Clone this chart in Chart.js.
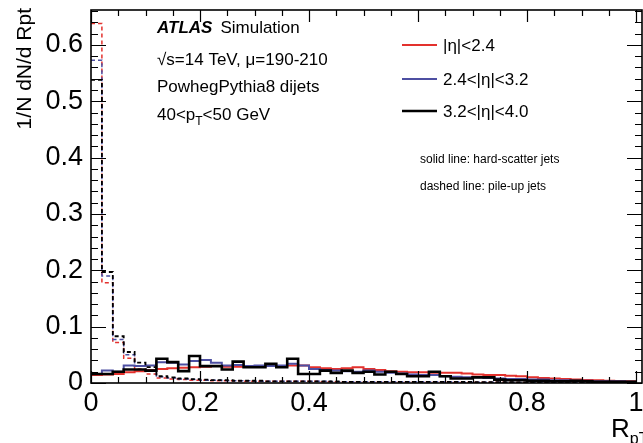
<!DOCTYPE html>
<html>
<head>
<meta charset="utf-8">
<title>Rpt distribution</title>
<script src="https://cdn.jsdelivr.net/npm/chart.js@4.4.1/dist/chart.umd.min.js"></script>
<style>
  html, body { margin: 0; padding: 0; background: #fff; }
  #wrap { width: 643px; height: 443px; }
</style>
</head>
<body>
<div id="wrap"><canvas id="rptChart" width="643" height="443"></canvas></div>
<script>
  const BIN_WIDTH = 0.02;
  const X_MAX = 1.011;
  const Y_MAX = 0.662;
  const xTickValues = [0, 0.2, 0.4, 0.6, 0.8, 1];
  const yTickValues = [0, 0.1, 0.2, 0.3, 0.4, 0.5, 0.6];

  const etaLabels = ["|η|<2.4", "2.4<|η|<3.2", "3.2<|η|<4.0"];
  const etaColors = ["#e3312d", "#4d4fa2", "#000000"];

  // hard-scatter jets, one value per 0.02 bin of Rpt
  const hsCentral = [
    0.014, 0.015, 0.016, 0.019, 0.021, 0.023, 0.025, 0.026, 0.027, 0.028,
    0.029, 0.030, 0.029, 0.029, 0.029, 0.029, 0.030, 0.030, 0.031, 0.031,
    0.028, 0.026, 0.025, 0.026, 0.028, 0.025, 0.023, 0.021, 0.020, 0.019,
    0.019, 0.018, 0.018, 0.018, 0.017, 0.015, 0.014, 0.014, 0.013, 0.012,
    0.010, 0.009, 0.008, 0.007, 0.006, 0.0055, 0.005, 0.004, 0.0035, 0.003,
  ];
  const hsMid = [
    0.016, 0.022, 0.020, 0.031, 0.030, 0.031, 0.037, 0.036, 0.033, 0.039,
    0.041, 0.036, 0.031, 0.032, 0.030, 0.031, 0.030, 0.031, 0.034, 0.031,
    0.025, 0.023, 0.022, 0.021, 0.020, 0.022, 0.020, 0.018, 0.017, 0.015,
    0.014, 0.014, 0.012, 0.011, 0.010, 0.010, 0.009, 0.008, 0.007, 0.007,
    0.006, 0.006, 0.005, 0.005, 0.004, 0.004, 0.003, 0.003, 0.003, 0.002,
  ];
  const hsForward = [
    0.016, 0.016, 0.020, 0.024, 0.024, 0.022, 0.043, 0.037, 0.021, 0.048,
    0.030, 0.030, 0.024, 0.038, 0.028, 0.028, 0.034, 0.028, 0.043, 0.016,
    0.016, 0.022, 0.018, 0.022, 0.018, 0.020, 0.015, 0.020, 0.016, 0.012,
    0.012, 0.020, 0.012, 0.008, 0.008, 0.010, 0.010, 0.006, 0.005, 0.005,
    0.004, 0.004, 0.003, 0.003, 0.004, 0.003, 0.002, 0.002, 0.002, 0.002,
  ];

  // pile-up jets
  const puCentral = [
    0.638, 0.178, 0.072, 0.044, 0.025, 0.016, 0.009, 0.007, 0.006, 0.005,
    0.005, 0.004, 0.004, 0.004, 0.003, 0.003, 0.003, 0.003, 0.003, 0.003,
    0.003, 0.002, 0.002, 0.002, 0.002, 0.002, 0.002, 0.002, 0.002, 0.002,
    0.002, 0.002, 0.002, 0.0015, 0.0015, 0.0015, 0.0015, 0.0015, 0.001, 0.001,
    0.001, 0.001, 0.001, 0.001, 0.001, 0.001, 0.001, 0.001, 0.001, 0.001,
  ];
  const puMid = [
    0.573, 0.190, 0.077, 0.050, 0.030, 0.022, 0.011, 0.009, 0.007, 0.006,
    0.005, 0.005, 0.004, 0.004, 0.004, 0.003, 0.003, 0.003, 0.003, 0.003,
    0.003, 0.003, 0.002, 0.002, 0.002, 0.002, 0.002, 0.002, 0.002, 0.002,
    0.002, 0.002, 0.002, 0.002, 0.0015, 0.0015, 0.0015, 0.0015, 0.001, 0.001,
    0.001, 0.001, 0.001, 0.001, 0.001, 0.001, 0.001, 0.001, 0.001, 0.001,
  ];
  const puForward = [
    0.538, 0.197, 0.083, 0.055, 0.036, 0.028, 0.012, 0.010, 0.008, 0.007,
    0.006, 0.005, 0.005, 0.004, 0.004, 0.004, 0.003, 0.003, 0.003, 0.003,
    0.003, 0.003, 0.003, 0.002, 0.002, 0.002, 0.002, 0.002, 0.002, 0.002,
    0.002, 0.002, 0.002, 0.002, 0.002, 0.0015, 0.0015, 0.0015, 0.0015, 0.001,
    0.001, 0.001, 0.001, 0.001, 0.001, 0.001, 0.001, 0.001, 0.001, 0.001,
  ];

  const FONT = "'Liberation Sans', Arial, Helvetica, sans-serif";

  // left bin edges with the bin content, plus the closing edge of the last bin
  function histPoints(values) {
    const pts = values.map((v, i) => ({ x: i * BIN_WIDTH, y: v }));
    pts.push({ x: values.length * BIN_WIDTH, y: values[values.length - 1] });
    return pts;
  }

  function histDataset(label, values, color, width, dashed) {
    return {
      label,
      data: histPoints(values),
      borderColor: color,
      borderWidth: width,
      borderDash: dashed ? [4, 3] : [],
      stepped: true,
      pointRadius: 0,
      fill: false,
      tension: 0,
    };
  }

  function tickLabel(v) {
    return v === 0 ? "0" : String(+v.toFixed(1));
  }

  // frame with inward ticks on all four sides
  const frameTicks = {
    id: "frameTicks",
    afterDatasetsDraw(chart) {
      const { ctx, chartArea: a, scales } = chart;
      const x = scales.x;
      const y = scales.y;
      ctx.save();
      ctx.strokeStyle = "#000";
      ctx.lineWidth = 1.2;
      ctx.beginPath();
      for (let k = 0; k * 0.05 <= X_MAX + 1e-9; k++) {
        const px = Math.round(x.getPixelForValue(k * 0.05)) + 0.5;
        const len = k % 4 === 0 ? 12 : 6;
        ctx.moveTo(px, a.bottom);
        ctx.lineTo(px, a.bottom - len);
        ctx.moveTo(px, a.top);
        ctx.lineTo(px, a.top + len);
      }
      for (let k = 0; k * 0.02 <= Y_MAX + 1e-9; k++) {
        const py = Math.round(y.getPixelForValue(k * 0.02)) + 0.5;
        const len = k % 5 === 0 ? 15 : 7;
        ctx.moveTo(a.left, py);
        ctx.lineTo(a.left + len, py);
        ctx.moveTo(a.right, py);
        ctx.lineTo(a.right - len, py);
      }
      ctx.stroke();
      ctx.lineWidth = 1.6;
      ctx.strokeRect(a.left, a.top, a.right - a.left, a.bottom - a.top);
      ctx.restore();
    },
  };

  // labels, legend and axis titles
  const annotations = {
    id: "annotations",
    afterDraw(chart) {
      const ctx = chart.ctx;
      ctx.save();
      ctx.fillStyle = "#000";
      ctx.textBaseline = "alphabetic";
      ctx.textAlign = "left";

      ctx.font = "italic bold 17px " + FONT;
      ctx.fillText("ATLAS", 157, 33);
      const w = ctx.measureText("ATLAS").width;
      ctx.font = "17px " + FONT;
      ctx.fillText("Simulation", 157 + w + 8, 33);
      ctx.fillText("√s=14 TeV, μ=190-210", 157, 65);
      ctx.fillText("PowhegPythia8 dijets", 157, 92);

      let cx = 157;
      ctx.fillText("40<p", cx, 120);
      cx += ctx.measureText("40<p").width;
      ctx.font = "12px " + FONT;
      ctx.fillText("T", cx, 125);
      cx += ctx.measureText("T").width;
      ctx.font = "17px " + FONT;
      ctx.fillText("<50 GeV", cx, 120);

      const legendY = [45, 79, 111];
      etaLabels.forEach((label, i) => {
        ctx.strokeStyle = etaColors[i];
        ctx.lineWidth = i === 2 ? 2.6 : 2;
        ctx.beginPath();
        ctx.moveTo(402, legendY[i]);
        ctx.lineTo(437, legendY[i]);
        ctx.stroke();
        ctx.font = "17px " + FONT;
        ctx.textBaseline = "middle";
        ctx.fillText(label, 443, legendY[i] + 1);
      });

      ctx.textBaseline = "alphabetic";
      ctx.font = "12px " + FONT;
      ctx.fillText("solid line: hard-scatter jets", 420, 163);
      ctx.fillText("dashed line: pile-up jets", 420, 190);

      // y axis title
      ctx.save();
      ctx.translate(25, 8);
      ctx.rotate(-Math.PI / 2);
      ctx.font = "21px " + FONT;
      ctx.textAlign = "right";
      ctx.textBaseline = "middle";
      ctx.fillText("1/N dN/d Rpt", 0, 0);
      ctx.restore();

      // x axis title
      ctx.font = "26px " + FONT;
      ctx.fillText("R", 611, 437);
      const rw = ctx.measureText("R").width;
      ctx.font = "16px " + FONT;
      ctx.fillText("pT", 611 + rw, 444);
      ctx.restore();
    },
  };

  const ctx = document.getElementById("rptChart").getContext("2d");
  new Chart(ctx, {
    type: "line",
    data: {
      datasets: [
        histDataset(etaLabels[2], hsForward, etaColors[2], 2.6, false),
        histDataset(etaLabels[2] + " PU", puForward, etaColors[2], 1.8, true),
        histDataset(etaLabels[1], hsMid, etaColors[1], 2, false),
        histDataset(etaLabels[1] + " PU", puMid, etaColors[1], 1.5, true),
        histDataset(etaLabels[0], hsCentral, etaColors[0], 2, false),
        histDataset(etaLabels[0] + " PU", puCentral, etaColors[0], 1.5, true),
      ],
    },
    options: {
      responsive: false,
      animation: false,
      layout: { padding: { top: 10, right: 1, left: 0, bottom: 0 } },
      plugins: {
        legend: { display: false },
        tooltip: { enabled: false },
      },
      scales: {
        x: {
          type: "linear",
          min: 0,
          max: X_MAX,
          afterBuildTicks: (s) => { s.ticks = xTickValues.map((v) => ({ value: v })); },
          afterFit: (s) => {
            s.height = 60;
            s.paddingLeft = 0;
            s.paddingRight = 0;
          },
          grid: { display: false, drawTicks: false },
          border: { display: false },
          ticks: {
            color: "#000",
            padding: 4,
            maxRotation: 0,
            font: { family: FONT, size: 27 },
            callback: (v) => tickLabel(v),
          },
        },
        y: {
          type: "linear",
          min: 0,
          max: Y_MAX,
          afterBuildTicks: (s) => { s.ticks = yTickValues.map((v) => ({ value: v })); },
          afterFit: (s) => {
            s.width = 91;
            s.paddingTop = 0;
            s.paddingBottom = 0;
          },
          grid: { display: false, drawTicks: false },
          border: { display: false },
          ticks: {
            color: "#000",
            padding: 8,
            font: { family: FONT, size: 27 },
            callback: (v) => tickLabel(v),
          },
        },
      },
    },
    plugins: [frameTicks, annotations],
  });
</script>
</body>
</html>
